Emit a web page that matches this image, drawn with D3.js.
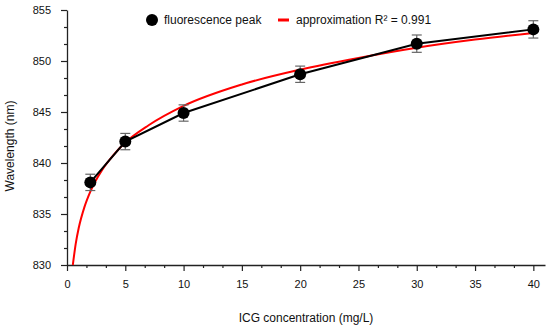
<!DOCTYPE html>
<html>
<head>
<meta charset="utf-8">
<script src="https://cdn.jsdelivr.net/npm/d3@7"></script>
<style>
	body { margin: 0; background: #fff; }
	svg { display: block; font-family: Arial, "Liberation Sans", sans-serif; }
</style>
</head>
<body>
<svg id="chart" width="550" height="330"></svg>
<script>
'use strict';

// data
const concentration = [2, 5, 10, 20, 30, 40];
const peak = [838.1, 842.1, 844.9, 848.7, 851.7, 853.1];
const peakErr = [0.8, 0.8, 0.8, 0.8, 0.85, 0.85];

// red approximation curve
const fitX = [0.5, 0.75, 1, 1.5, 2, 3, 4, 5, 7, 10, 15, 20, 25, 30, 35, 40];
const fitY = [830.0, 832.1, 833.6, 835.7, 837.2, 839.3, 840.8, 842.0, 843.7, 845.6, 847.7, 849.15, 850.3, 851.3, 852.1, 852.75];

const xTicks = [0, 5, 10, 15, 20, 25, 30, 35, 40];
const yTicks = [830, 835, 840, 845, 850, 855];

const svg = d3.select('#chart');
const plot = {left: 67, right: 545, top: 10, bottom: 265};

const x = d3.scaleLinear().domain([0, 41]).range([plot.left, plot.right]);
const y = d3.scaleLinear().domain([830, 855]).range([plot.bottom, plot.top]);

const minor = (ticks, step) => d3.merge(ticks.slice(0, -1).map(t => [t + step / 3, t + 2 * step / 3]));

// axes
const xAxis = svg.append('g').attr('transform', `translate(0,${plot.bottom})`);
xAxis.call(d3.axisBottom(x).tickValues(xTicks).tickSize(6).tickPadding(9).tickSizeOuter(0));
xAxis.append('g').call(d3.axisBottom(x).tickValues(minor(xTicks, 5).concat([40 + 5 / 3])).tickSize(3).tickFormat('').tickSizeOuter(0))
	.select('.domain').remove();

const yAxis = svg.append('g').attr('transform', `translate(${plot.left},0)`);
yAxis.call(d3.axisLeft(y).tickValues(yTicks).tickSize(6).tickPadding(10).tickSizeOuter(0));
yAxis.append('g').call(d3.axisLeft(y).tickValues(minor(yTicks, 5)).tickSize(3).tickFormat('').tickSizeOuter(0))
	.select('.domain').remove();

svg.selectAll('.domain').attr('stroke', '#222').attr('stroke-width', 1.3);
svg.selectAll('.tick line').attr('stroke', '#222').attr('stroke-width', 1.2);
svg.selectAll('.tick text').attr('font-size', 11).attr('fill', '#111')
	.attr('font-family', 'Arial, "Liberation Sans", sans-serif');

// titles
svg.append('text')
	.attr('x', (plot.left + plot.right) / 2).attr('y', 322)
	.attr('text-anchor', 'middle').attr('font-size', 12).attr('fill', '#111')
	.text('ICG concentration (mg/L)');
svg.append('text')
	.attr('transform', 'translate(14,146) rotate(-90)')
	.attr('text-anchor', 'middle').attr('font-size', 12).attr('fill', '#111')
	.text('Wavelength (nm)');

// fit curve
const fitPts = fitX.map((d, i) => [d, fitY[i]]);
svg.append('path')
	.datum(fitPts)
	.attr('fill', 'none').attr('stroke', '#ff0000').attr('stroke-width', 2)
	.attr('d', d3.line().x(d => x(d[0])).y(d => y(d[1])).curve(d3.curveMonotoneX));

// measured line
const pts = concentration.map((d, i) => ({x: d, y: peak[i], e: peakErr[i]}));
svg.append('path')
	.datum(pts)
	.attr('fill', 'none').attr('stroke', '#000').attr('stroke-width', 2)
	.attr('d', d3.line().x(d => x(d.x)).y(d => y(d.y)));

// error bars
const eb = svg.append('g').attr('stroke', '#666').attr('stroke-width', 1.2);
pts.forEach(d => {
	const cx = x(d.x);
	eb.append('line').attr('x1', cx).attr('x2', cx).attr('y1', y(d.y - d.e)).attr('y2', y(d.y + d.e));
	[d.y - d.e, d.y + d.e].forEach(v =>
		eb.append('line').attr('x1', cx - 5).attr('x2', cx + 5).attr('y1', y(v)).attr('y2', y(v)));
});

// points
svg.append('g').selectAll('circle')
	.data(pts).join('circle')
	.attr('cx', d => x(d.x)).attr('cy', d => y(d.y)).attr('r', 6).attr('fill', '#000');

// legend
const lg = svg.append('g').attr('font-size', 12).attr('fill', '#111');
lg.append('circle').attr('cx', 152).attr('cy', 20).attr('r', 6).attr('fill', '#000');
lg.append('text').attr('x', 164).attr('y', 24).text('fluorescence peak');
lg.append('line').attr('x1', 278).attr('x2', 289).attr('y1', 20).attr('y2', 20)
	.attr('stroke', '#ff0000').attr('stroke-width', 3);
lg.append('text').attr('x', 296).attr('y', 24).text('approximation R\u00b2 = 0.991');
</script>
</body>
</html>
